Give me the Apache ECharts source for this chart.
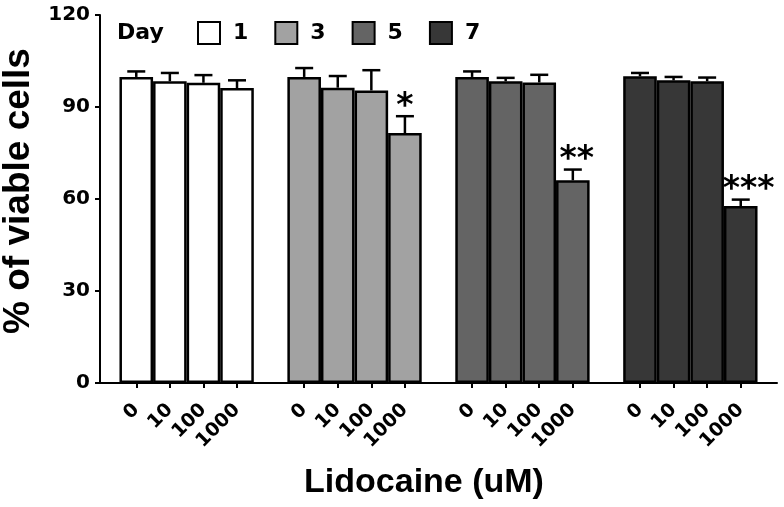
<!DOCTYPE html>
<html>
<head>
<meta charset="utf-8">
<script src="https://cdn.jsdelivr.net/npm/echarts@6/dist/echarts.min.js"></script>
<style>
html,body{margin:0;padding:0;background:#fff;}
#chart{width:784px;height:507px;}
</style>
</head>
<body>
<div id="chart"></div>
<script>
// ---- data ----
const days = ['1', '3', '5', '7'];
const doses = ['0', '10', '100', '1000'];
const day1 = [99.8, 98.4, 97.9, 96.2];
const day3 = [99.8, 96.3, 95.4, 81.5];
const day5 = [99.8, 98.4, 98.0, 66.1];
const day7 = [100.0, 98.7, 98.4, 57.7];
const err1 = [1.8, 2.7, 2.5, 2.5];
const err3 = [2.9, 3.8, 6.6, 5.5];
const err5 = [1.8, 1.1, 2.5, 3.5];
const err7 = [1.1, 1.1, 1.2, 2.1];
const sig1 = ['', '', '', ''];
const sig3 = ['', '', '', '*'];
const sig5 = ['', '', '', '**'];
const sig7 = ['', '', '', '***'];
const yTicks = [0, 30, 60, 90, 120];

const values = [day1, day3, day5, day7];
const errors = [err1, err3, err5, err7];
const sigs = [sig1, sig3, sig5, sig7];

// ---- styles ----
const colors = ['#ffffff', '#a2a2a2', '#646464', '#373737'];
const tickFont = 'DejaVu Sans';
const titleFont = 'Liberation Sans';
const slotsPerGroup = doses.length + 1;
const pos = (g, i) => g * slotsPerGroup + i;
const tickPositions = [];
days.forEach((d, g) => doses.forEach((c, i) => tickPositions.push(pos(g, i))));

const chart = echarts.init(document.getElementById('chart'), null, {renderer: 'canvas'});

const series = [];
days.forEach((d, g) => {
  series.push({
    type: 'bar',
    name: d,
    data: values[g].map((v, i) => [pos(g, i), v]),
    barWidth: 33.6,
    barGap: '-100%',
    itemStyle: {color: colors[g], borderColor: '#000', borderWidth: 2.5},
    emphasis: {disabled: true},
    z: 2
  });
});
days.forEach((d, g) => {
  series.push({
    type: 'custom',
    name: 'err' + d,
    data: values[g].map((v, i) => [pos(g, i), v, errors[g][i]]),
    z: 3,
    silent: true,
    renderItem: function (params, api) {
      const x = api.value(0), v = api.value(1), e = api.value(2);
      const p0 = api.coord([x, v]);
      const p1 = api.coord([x, v + e]);
      const half = 9;
      const mark = sigs[g][params.dataIndex];
      const children = [
        {type: 'line', shape: {x1: p0[0], y1: p0[1], x2: p1[0], y2: p1[1]}, style: {stroke: '#000', lineWidth: 2.5}},
        {type: 'line', shape: {x1: p1[0] - half, y1: p1[1], x2: p1[0] + half, y2: p1[1]}, style: {stroke: '#000', lineWidth: 2.5}}
      ];
      if (mark) {
        children.push({
          type: 'text',
          style: {
            text: mark, x: p1[0] + (mark.length - 1) * 4, y: p1[1] - 9,
            align: 'center', verticalAlign: 'middle',
            fontFamily: tickFont, fontWeight: 'bold', fontSize: 33, fill: '#000'
          }
        });
      }
      return {type: 'group', children: children};
    }
  });
});

const option = {
  backgroundColor: '#fff',
  animation: false,
  title: {
    text: 'Day', left: 117, top: 22, padding: 0,
    textStyle: {fontFamily: tickFont, fontWeight: 'bold', fontSize: 22, color: '#000'}
  },
  legend: {
    data: days,
    left: 197, top: 21, padding: 0,
    icon: 'rect',
    itemWidth: 22, itemHeight: 22, itemGap: 26,
    selectedMode: false,
    itemStyle: {borderColor: '#000', borderWidth: 2},
    textStyle: {fontFamily: tickFont, fontWeight: 'bold', fontSize: 22, color: '#000', padding: [0, 0, 0, 8]}
  },
  grid: {left: 100, right: 7, top: 15, bottom: 124, containLabel: false, outerBoundsMode: 'none'},
  xAxis: {
    type: 'value',
    min: -1.08, max: 19.08,
    name: 'Lidocaine (uM)',
    nameLocation: 'middle',
    nameGap: 83,
    nameTextStyle: {fontFamily: titleFont, fontWeight: 'bold', fontSize: 34, color: '#000', padding: [0, 29, 0, 0]},
    axisLine: {show: true, onZero: false, lineStyle: {color: '#000', width: 2}},
    axisTick: {show: true, customValues: tickPositions, length: 5, lineStyle: {color: '#000', width: 2}},
    axisLabel: {
      customValues: tickPositions, rotate: 45, margin: 24,
      fontFamily: tickFont, fontWeight: 'bold', fontSize: 19, color: '#000',
      formatter: v => doses[Math.round(v) % slotsPerGroup]
    },
    splitLine: {show: false}
  },
  yAxis: {
    type: 'value',
    min: yTicks[0], max: yTicks[yTicks.length - 1], interval: yTicks[1] - yTicks[0],
    name: '% of viable cells',
    nameLocation: 'middle',
    nameGap: 60,
    nameTextStyle: {fontFamily: titleFont, fontWeight: 'bold', fontSize: 37, color: '#000', padding: [0, 0, 0, 16]},
    axisLine: {show: true, onZero: false, lineStyle: {color: '#000', width: 2}},
    axisTick: {show: true, length: 5, lineStyle: {color: '#000', width: 2}},
    axisLabel: {margin: 10, fontFamily: tickFont, fontWeight: 'bold', fontSize: 20, color: '#000'},
    splitLine: {show: false}
  },
  series: series
};
chart.setOption(option);
</script>
</body>
</html>
